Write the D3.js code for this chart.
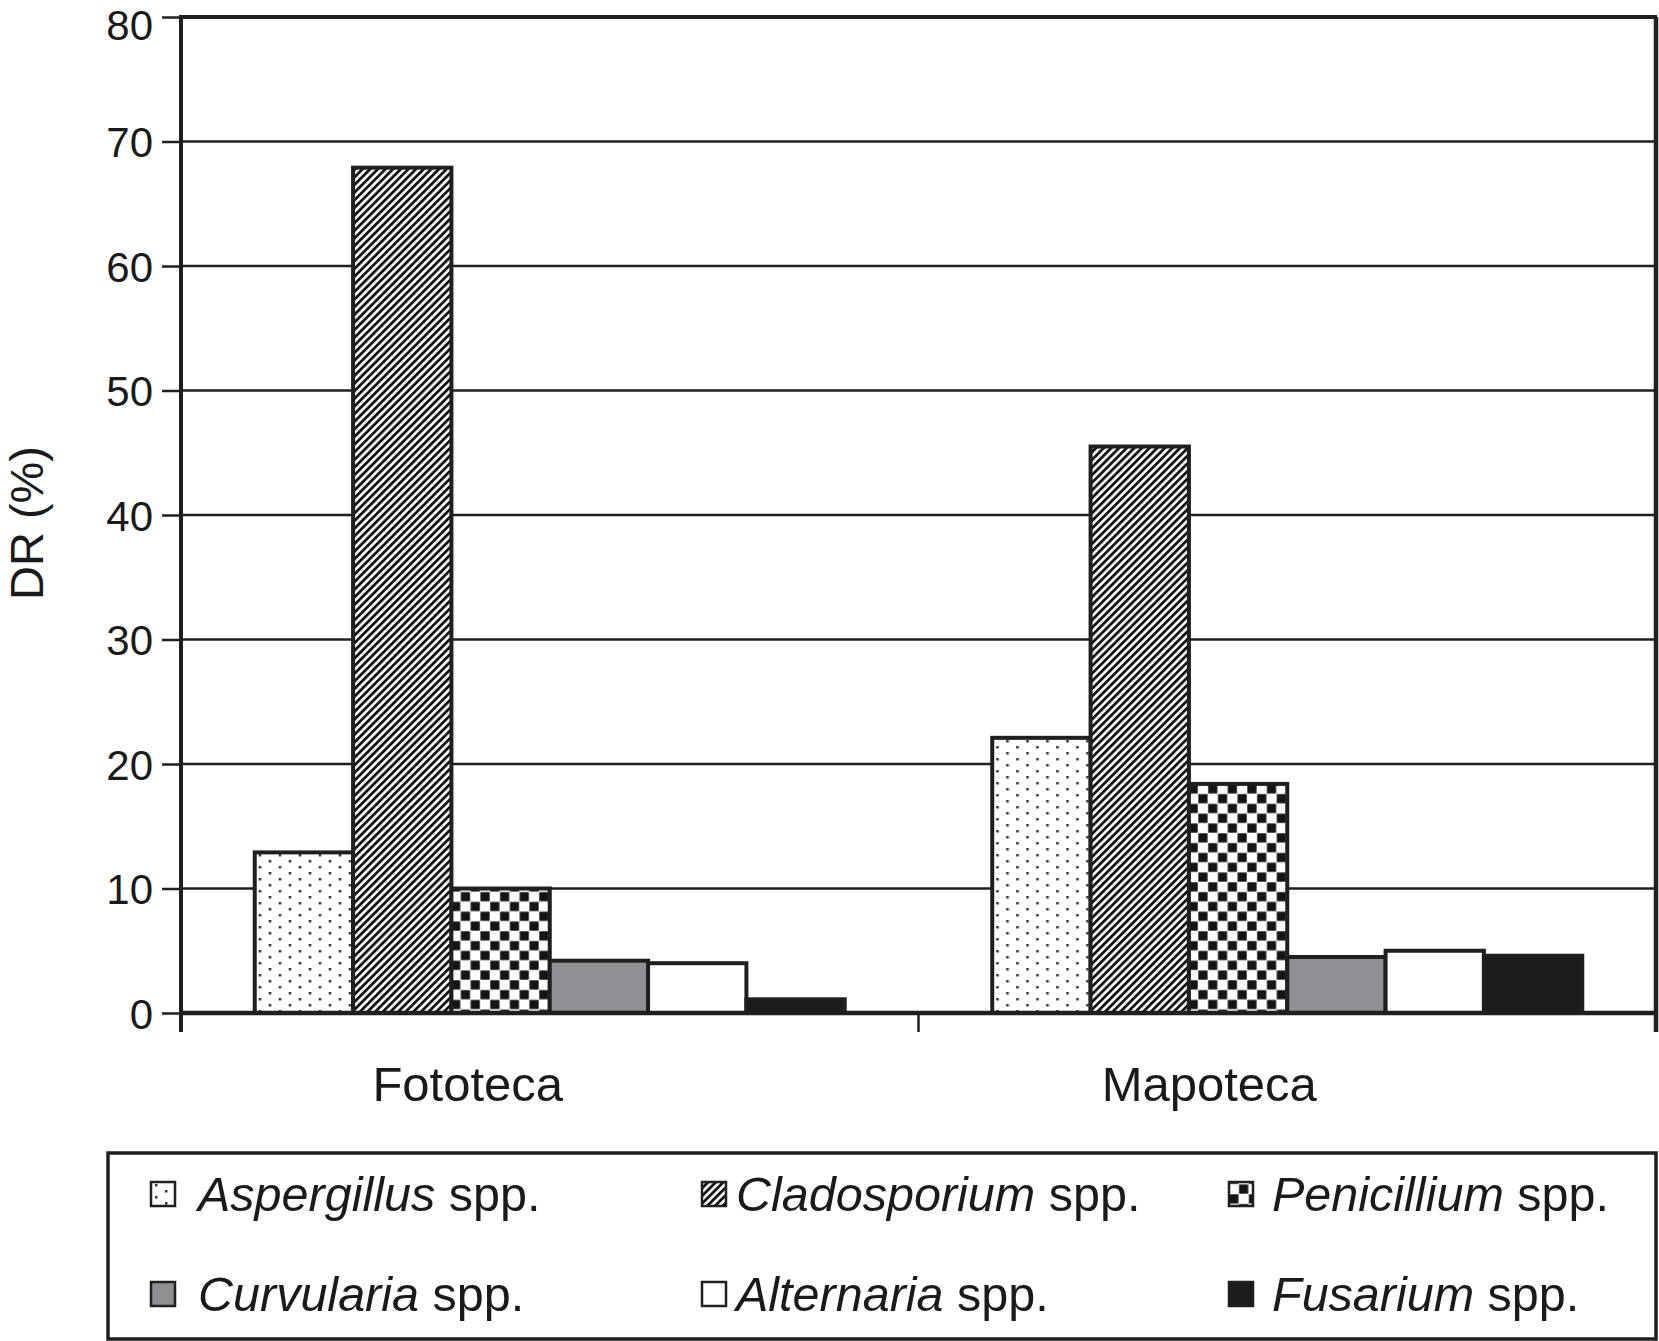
<!DOCTYPE html>
<html><head><meta charset="utf-8">
<script src="https://cdn.jsdelivr.net/npm/d3@7"></script>
<style>body{margin:0;background:#fff}svg{display:block}</style>
</head><body><svg id="chart" width="1659" height="1341"></svg>
<script>
// ---- data ----
const categories = ["Fototeca", "Mapoteca"];
const species = ["Aspergillus", "Cladosporium", "Penicillium", "Curvularia", "Alternaria", "Fusarium"];
const fototecaValues = [12.9, 67.9, 10.0, 4.2, 4.0, 1.1];
const mapotecaValues = [22.1, 45.5, 18.4, 4.5, 5.0, 4.6];
const yTicks = [0, 10, 20, 30, 40, 50, 60, 70, 80];
const yTitle = "DR (%)";
const speciesSuffix = " spp.";

const seriesByCategory = { Fototeca: fototecaValues, Mapoteca: mapotecaValues };
const fills = ["url(#pAsp)", "url(#pClad)", "url(#pPen)", "#8f9094", "#ffffff", "#1c1c1c"];
const INK = "#1f1f1f";
const FONT = "'Liberation Sans', Arial, Helvetica, sans-serif";

const svg = d3.select("#chart");
svg.append("rect").attr("width", 1659).attr("height", 1341).attr("fill", "#fff");

// ---- patterns ----
const defs = svg.append("defs");
const pa = defs.append("pattern").attr("id", "pAsp").attr("patternUnits", "userSpaceOnUse")
  .attr("width", 20).attr("height", 12);
pa.append("rect").attr("width", 20).attr("height", 12).attr("fill", "#fff");
pa.append("rect").attr("x", 4).attr("y", 2).attr("width", 2.5).attr("height", 2.5).attr("fill", "#333");
pa.append("rect").attr("x", 14).attr("y", 8).attr("width", 2.5).attr("height", 2.5).attr("fill", "#333");

const pc = defs.append("pattern").attr("id", "pClad").attr("patternUnits", "userSpaceOnUse")
  .attr("width", 5.4).attr("height", 10).attr("patternTransform", "rotate(45)");
pc.append("rect").attr("width", 5.4).attr("height", 10).attr("fill", "#fff");
pc.append("rect").attr("width", 2.8).attr("height", 10).attr("fill", "#141414");

const pp = defs.append("pattern").attr("id", "pPen").attr("patternUnits", "userSpaceOnUse")
  .attr("width", 19.6).attr("height", 19.6);
pp.append("rect").attr("width", 19.6).attr("height", 19.6).attr("fill", "#fff");
pp.append("rect").attr("x", 0.3).attr("y", 0.3).attr("width", 9.2).attr("height", 9.2).attr("fill", "#141414");
pp.append("rect").attr("x", 10.1).attr("y", 10.1).attr("width", 9.2).attr("height", 9.2).attr("fill", "#141414");

// ---- scales ----
const pLeft = 181, pRight = 1656, pTop = 17, pBottom = 1013;
const y = d3.scaleLinear().domain([0, 80]).range([pBottom, pTop]);
const x0 = d3.scaleBand().domain(categories).range([pLeft, pRight]).paddingInner(0.2).paddingOuter(0.1);
const x1 = d3.scaleBand().domain(species).range([0, x0.bandwidth()]);

// ---- gridlines ----
svg.append("g").selectAll("line").data(yTicks.filter(t => t > 0 && t < 80)).join("line")
  .attr("x1", pLeft).attr("x2", pRight).attr("y1", d => y(d)).attr("y2", d => y(d))
  .attr("stroke", INK).attr("stroke-width", 2.5);

// ---- bars ----
const groups = svg.append("g").selectAll("g").data(categories).join("g")
  .attr("transform", c => `translate(${x0(c)},0)`);
groups.selectAll("rect").data(c => species.map((s, i) => ({ s, i, v: seriesByCategory[c][i] }))).join("rect")
  .attr("x", d => x1(d.s)).attr("width", x1.bandwidth())
  .attr("y", d => y(d.v)).attr("height", d => y(0) - y(d.v))
  .attr("fill", d => fills[d.i]).attr("stroke", INK).attr("stroke-width", 4);

// ---- frame (top and right) ----
svg.append("line").attr("x1", pLeft).attr("x2", pRight + 1).attr("y1", y(80)).attr("y2", y(80))
  .attr("stroke", INK).attr("stroke-width", 4);
svg.append("line").attr("x1", pRight).attr("x2", pRight).attr("y1", y(80)).attr("y2", pBottom + 19)
  .attr("stroke", INK).attr("stroke-width", 4.5);

// ---- y axis ----
const yAxis = svg.append("g").attr("transform", `translate(${pLeft},0)`)
  .call(d3.axisLeft(y).tickValues(yTicks).tickSize(19).tickSizeOuter(0).tickPadding(9));
yAxis.select(".domain").attr("stroke", INK).attr("stroke-width", 4).attr("d", `M0,${pTop - 2}V${pBottom + 19}`);
yAxis.selectAll(".tick line").attr("stroke", INK).attr("stroke-width", 2.5);
yAxis.selectAll(".tick text").attr("font-family", FONT).attr("font-size", 42).attr("fill", "#1a1a1a")
  .attr("dy", d => d === 80 ? "0.54em" : "0.36em");

// ---- x axis ----
svg.append("line").attr("x1", pLeft).attr("x2", pRight).attr("y1", pBottom).attr("y2", pBottom)
  .attr("stroke", INK).attr("stroke-width", 4.5);
const boundaries = [pLeft, (x0(categories[0]) + x0.bandwidth() + x0(categories[1])) / 2, pRight];
svg.append("g").selectAll("line").data(boundaries).join("line")
  .attr("x1", d => d).attr("x2", d => d).attr("y1", pBottom).attr("y2", pBottom + 19)
  .attr("stroke", INK).attr("stroke-width", 2.5);
svg.append("g").selectAll("text").data(categories).join("text")
  .attr("x", (c, i) => x0(c) + x0.bandwidth() / 2 - (i === 0 ? 82 : 78)).attr("y", 1101)
  .attr("text-anchor", "middle").attr("font-family", FONT).attr("font-size", 49).attr("fill", "#1a1a1a")
  .text(c => c);

// ---- y title ----
svg.append("text").attr("transform", "translate(43,523) rotate(-90)")
  .attr("text-anchor", "middle").attr("font-family", FONT).attr("font-size", 47).attr("fill", "#1a1a1a")
  .text(yTitle);

// ---- legend ----
svg.append("rect").attr("x", 108).attr("y", 1153).attr("width", 1548)
  .attr("height", 186).attr("fill", "none").attr("stroke", INK).attr("stroke-width", 3.5);
const colX = [151, 702, 1229];
const textDx = [47, 34, 43];
const rowY = [1194, 1294];
const leg = svg.append("g").selectAll("g").data(species).join("g")
  .attr("transform", (s, i) => `translate(${colX[i % 3]},${rowY[Math.floor(i / 3)]})`);
leg.append("rect").attr("x", 0).attr("y", -12).attr("width", 24).attr("height", 24)
  .attr("fill", (s, i) => fills[i]).attr("stroke", INK).attr("stroke-width", 2.5);
const lt = leg.append("text").attr("x", (s, i) => textDx[i % 3]).attr("y", 0).attr("dy", "0.36em")
  .attr("font-family", FONT).attr("font-size", 48.5).attr("fill", "#1a1a1a");
lt.append("tspan").attr("font-style", "italic").text(s => s);
lt.append("tspan").text(speciesSuffix);
</script></body></html>
